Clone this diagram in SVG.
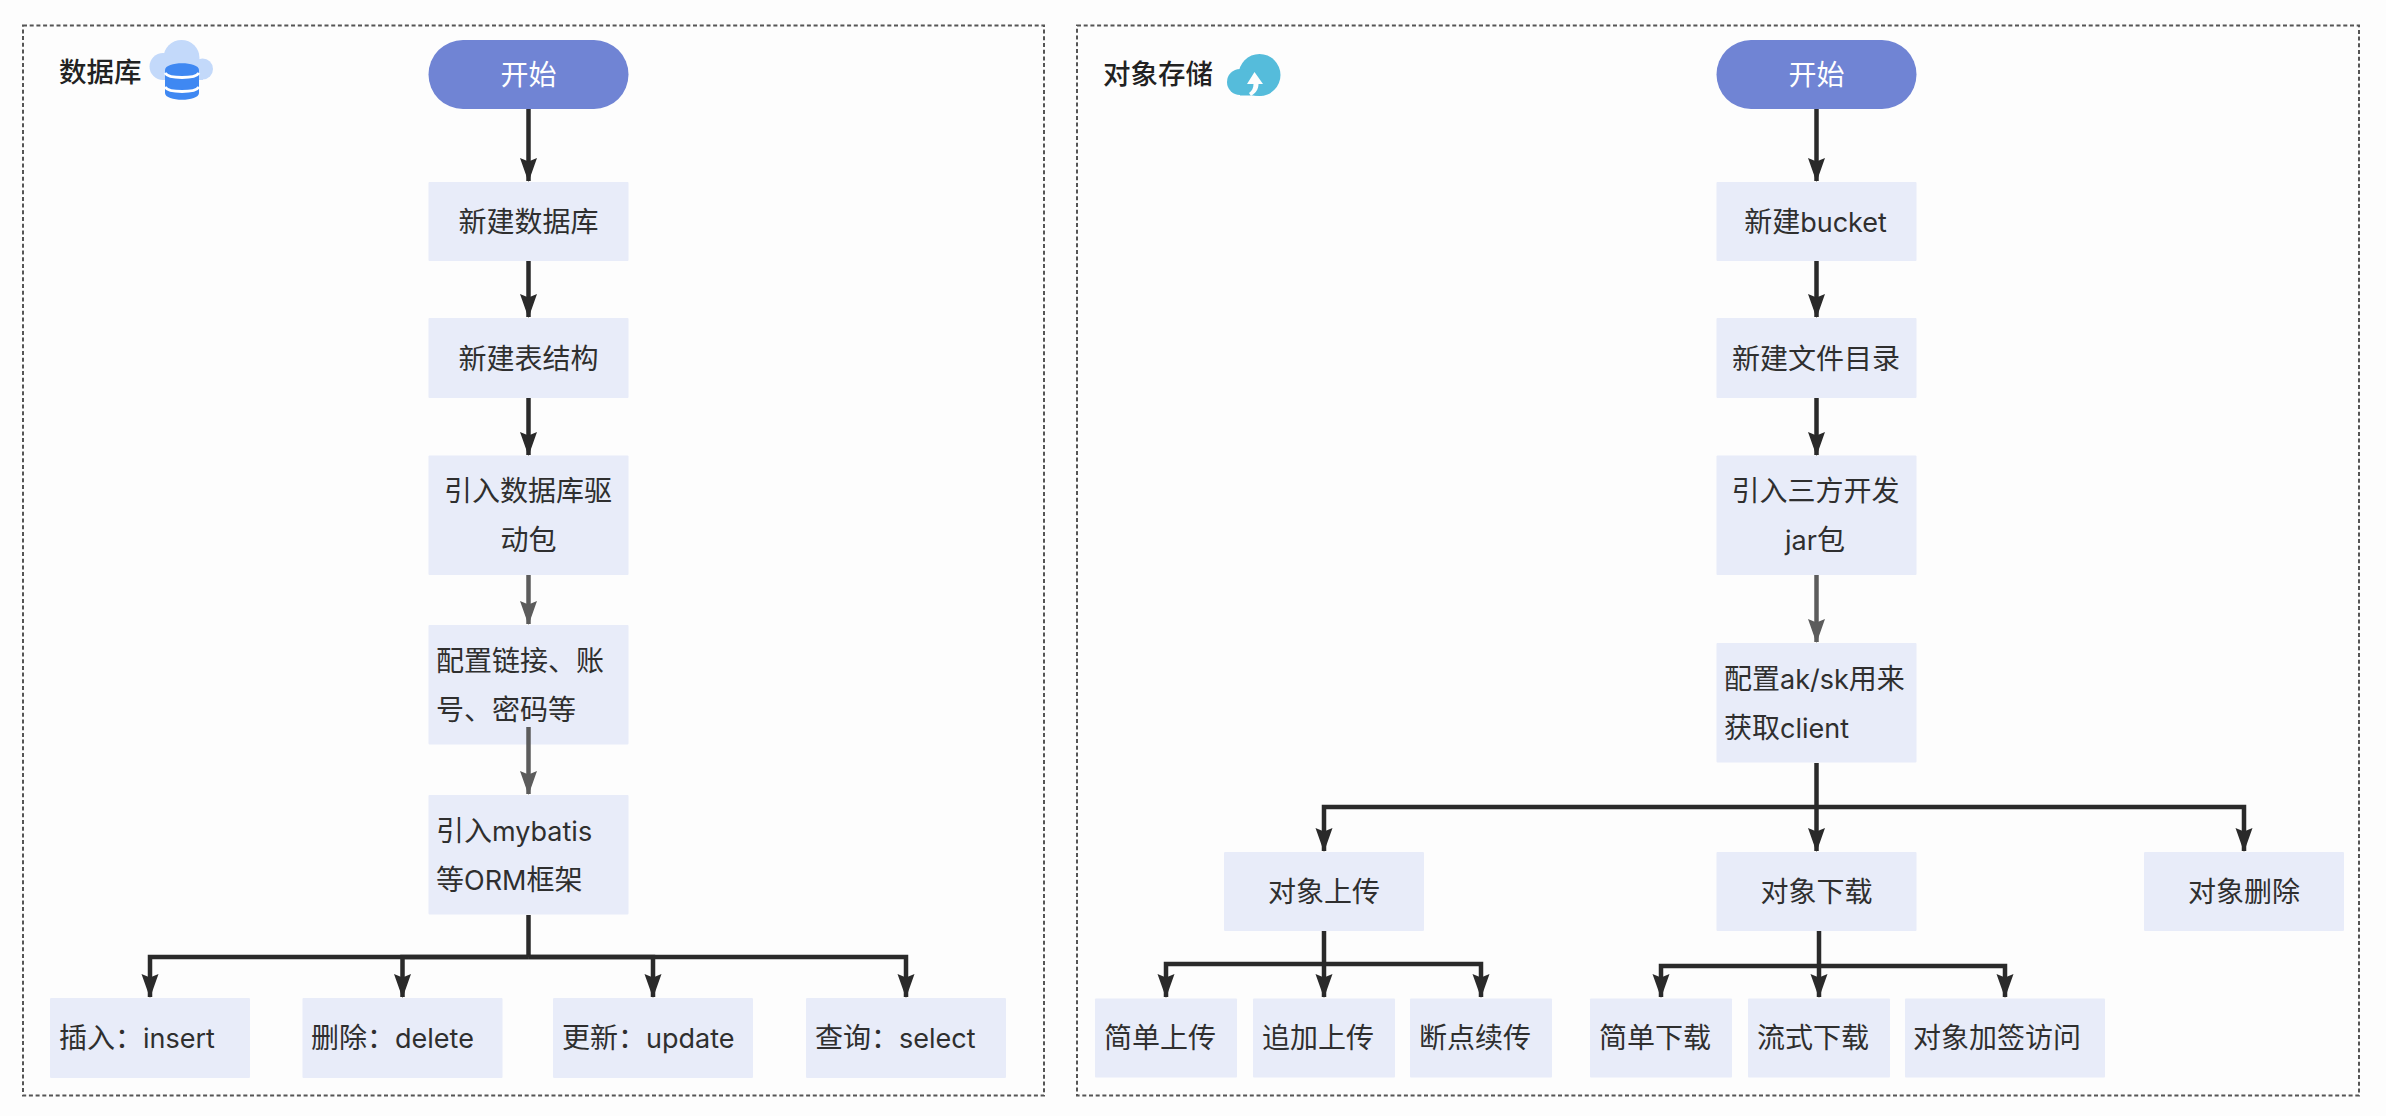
<svg xmlns="http://www.w3.org/2000/svg" width="2386" height="1116" viewBox="0 0 2386 1116">
<style>
text{font-family:"Noto Sans CJK SC","Noto Sans",sans-serif;font-size:28px;fill:#2f2f2f}
.l{font-family:Inter,"Noto Sans",sans-serif;font-size:27px}
.m{text-anchor:middle}
.t{font-weight:500;font-size:27.500px;fill:#222}
text.w{fill:#fff}
.b{fill:#e8ecf9}
.p{fill:#7084d4}
.f{fill:none;stroke:#555;stroke-width:2;stroke-dasharray:4 2.700}
.c{fill:none;stroke:#2a2a2a;stroke-width:4.500}
.g{fill:none;stroke:#5c5c5c;stroke-width:4.500}
.a{marker-end:url(#ah)}
.h{marker-end:url(#ag)}
</style>
<defs>
<marker id="ah" markerUnits="userSpaceOnUse" markerWidth="24" markerHeight="18" refX="23" refY="9" orient="auto" viewBox="0 0 24 18"><path d="M24 9L0 0.500L3.500 9L0 17.500Z" fill="#2a2a2a"/></marker>
<marker id="ag" markerUnits="userSpaceOnUse" markerWidth="24" markerHeight="18" refX="23" refY="9" orient="auto" viewBox="0 0 24 18"><path d="M24 9L0 0.500L3.500 9L0 17.500Z" fill="#5c5c5c"/></marker>
</defs>
<rect width="2386" height="1116" fill="#fdfdfd"/>
<rect id="panel-db" class="f" x="23" y="25.500" width="1021" height="1070"/>
<rect id="panel-oss" class="f" x="1077" y="25.500" width="1282" height="1070"/>
<g id="title-db"><text class="t" x="59" y="82">数据库</text>
<g id="icon-db"><g fill="#c3d9fa"><circle cx="181.500" cy="58" r="18"/><circle cx="163" cy="66.500" r="13.500"/><circle cx="202.500" cy="69" r="10.500"/><rect x="163" y="60" width="40" height="20"/></g>
<path fill="#3f88f2" d="M165 70c0-9 34-9 34 0v23c0 9-34 9-34 0z"/>
<path fill="none" stroke="#fff" stroke-width="3" d="M165 73c4 6 30 6 34 0M165 87c4 6 30 6 34 0"/></g></g>
<g id="title-oss"><text class="t" x="1103" y="84">对象存储</text>
<g id="icon-oss"><circle cx="1259.500" cy="75" r="21" fill="#55bcdb"/><circle cx="1240" cy="82" r="13" fill="#55bcdb"/><rect x="1240" y="80" width="22" height="15.500" fill="#55bcdb"/>
<path fill="#fdfdfd" d="M1254.500 72L1263 84H1258.500C1258.500 89 1256 93 1251 96L1249 93C1252 91 1253.500 88 1253.500 84H1247z"/></g></g>
<g id="n-start-db"><rect class="p" x="428.500" y="40" width="200" height="69" rx="34.500"/><text class="m w" x="528.500" y="85">开始</text></g>
<g id="n-db1"><rect class="b" x="428.500" y="182" width="200" height="79" rx="1"/><text class="m" x="528.500" y="232">新建数据库</text></g>
<g id="n-db2"><rect class="b" x="428.500" y="318" width="200" height="80" rx="1"/><text class="m" x="528.500" y="369">新建表结构</text></g>
<g id="n-db3"><rect class="b" x="428.500" y="455.500" width="200" height="119.500" rx="1"/><text class="m" x="528" y="501">引入数据库驱</text><text class="m" x="528.500" y="550">动包</text></g>
<g id="n-db4"><rect class="b" x="428.500" y="625" width="200" height="119.500" rx="1"/><text x="436" y="671">配置链接、账</text><text x="436" y="720">号、密码等</text></g>
<g id="n-db5"><rect class="b" x="428.500" y="795" width="200" height="119.500" rx="1"/><text x="436" y="841">引入<tspan class="l">mybatis</tspan></text><text x="436" y="890">等<tspan class="l">ORM</tspan>框架</text></g>
<g id="n-insert"><rect class="b" x="50" y="998" width="200" height="80" rx="1"/><text x="59" y="1048">插入：<tspan class="l">insert</tspan></text></g>
<g id="n-delete"><rect class="b" x="302.500" y="998" width="200" height="80" rx="1"/><text x="311" y="1048">删除：<tspan class="l">delete</tspan></text></g>
<g id="n-update"><rect class="b" x="553" y="998" width="200" height="80" rx="1"/><text x="562" y="1048">更新：<tspan class="l">update</tspan></text></g>
<g id="n-select"><rect class="b" x="806" y="998" width="200" height="80" rx="1"/><text x="815" y="1048">查询：<tspan class="l">select</tspan></text></g>
<g id="n-start-oss"><rect class="p" x="1716.500" y="40" width="200" height="69" rx="34.500"/><text class="m w" x="1816.500" y="85">开始</text></g>
<g id="n-o1"><rect class="b" x="1716.500" y="182" width="200" height="79" rx="1"/><text class="m" x="1815.500" y="232">新建<tspan class="l">bucket</tspan></text></g>
<g id="n-o2"><rect class="b" x="1716.500" y="318" width="200" height="80" rx="1"/><text class="m" x="1816" y="369">新建文件目录</text></g>
<g id="n-o3"><rect class="b" x="1716.500" y="455.500" width="200" height="119.500" rx="1"/><text class="m" x="1815.500" y="501">引入三方开发</text><text class="m" x="1815" y="550"><tspan class="l">jar</tspan>包</text></g>
<g id="n-o4"><rect class="b" x="1716.500" y="643" width="200" height="119.500" rx="1"/><text x="1724" y="689">配置<tspan class="l">ak/sk</tspan>用来</text><text x="1724" y="738">获取<tspan class="l">client</tspan></text></g>
<g id="n-up"><rect class="b" x="1224" y="852" width="200" height="79" rx="1"/><text class="m" x="1324" y="902">对象上传</text></g>
<g id="n-down"><rect class="b" x="1716.500" y="852" width="200" height="79" rx="1"/><text class="m" x="1816.500" y="902">对象下载</text></g>
<g id="n-del"><rect class="b" x="2144" y="852" width="200" height="79" rx="1"/><text class="m" x="2244" y="902">对象删除</text></g>
<g id="n-u1"><rect class="b" x="1095" y="998.500" width="142" height="79" rx="1"/><text x="1104" y="1048">简单上传</text></g>
<g id="n-u2"><rect class="b" x="1253" y="998.500" width="142" height="79" rx="1"/><text x="1262" y="1048">追加上传</text></g>
<g id="n-u3"><rect class="b" x="1410" y="998.500" width="142" height="79" rx="1"/><text x="1419" y="1048">断点续传</text></g>
<g id="n-d1"><rect class="b" x="1590" y="998.500" width="142" height="79" rx="1"/><text x="1599" y="1048">简单下载</text></g>
<g id="n-d2"><rect class="b" x="1748" y="998.500" width="142" height="79" rx="1"/><text x="1757" y="1048">流式下载</text></g>
<g id="n-d3"><rect class="b" x="1905" y="998.500" width="200" height="79" rx="1"/><text class="m" x="1997" y="1048">对象加签访问</text></g>
<g id="connectors">
<path class="c a" d="M528.500 109V181"/>
<path class="c a" d="M528.500 261V317"/>
<path class="c a" d="M528.500 398V455"/>
<path class="g h" d="M528.500 575V624"/>
<path class="g h" d="M528.500 727V794"/>
<path class="c" d="M528.500 915V957"/>
<path class="c a" d="M528.500 957H150V997"/>
<path class="c a" d="M528.500 957H402.500V997"/>
<path class="c a" d="M528.500 957H653V997"/>
<path class="c a" d="M528.500 957H906V997"/>
<path class="c a" d="M1816.500 109V181"/>
<path class="c a" d="M1816.500 261V317"/>
<path class="c a" d="M1816.500 398V455"/>
<path class="g h" d="M1816.500 575V642"/>
<path class="c a" d="M1816.500 763V851"/>
<path class="c a" d="M1816.500 807H1324V851"/>
<path class="c a" d="M1816.500 807H2244V851"/>
<path class="c a" d="M1324 931V997"/>
<path class="c a" d="M1324 964H1166V997"/>
<path class="c a" d="M1324 964H1481V997"/>
<path class="c a" d="M1819 931V997"/>
<path class="c a" d="M1819 966H1661V997"/>
<path class="c a" d="M1819 966H2005V997"/>
</g>
</svg>
